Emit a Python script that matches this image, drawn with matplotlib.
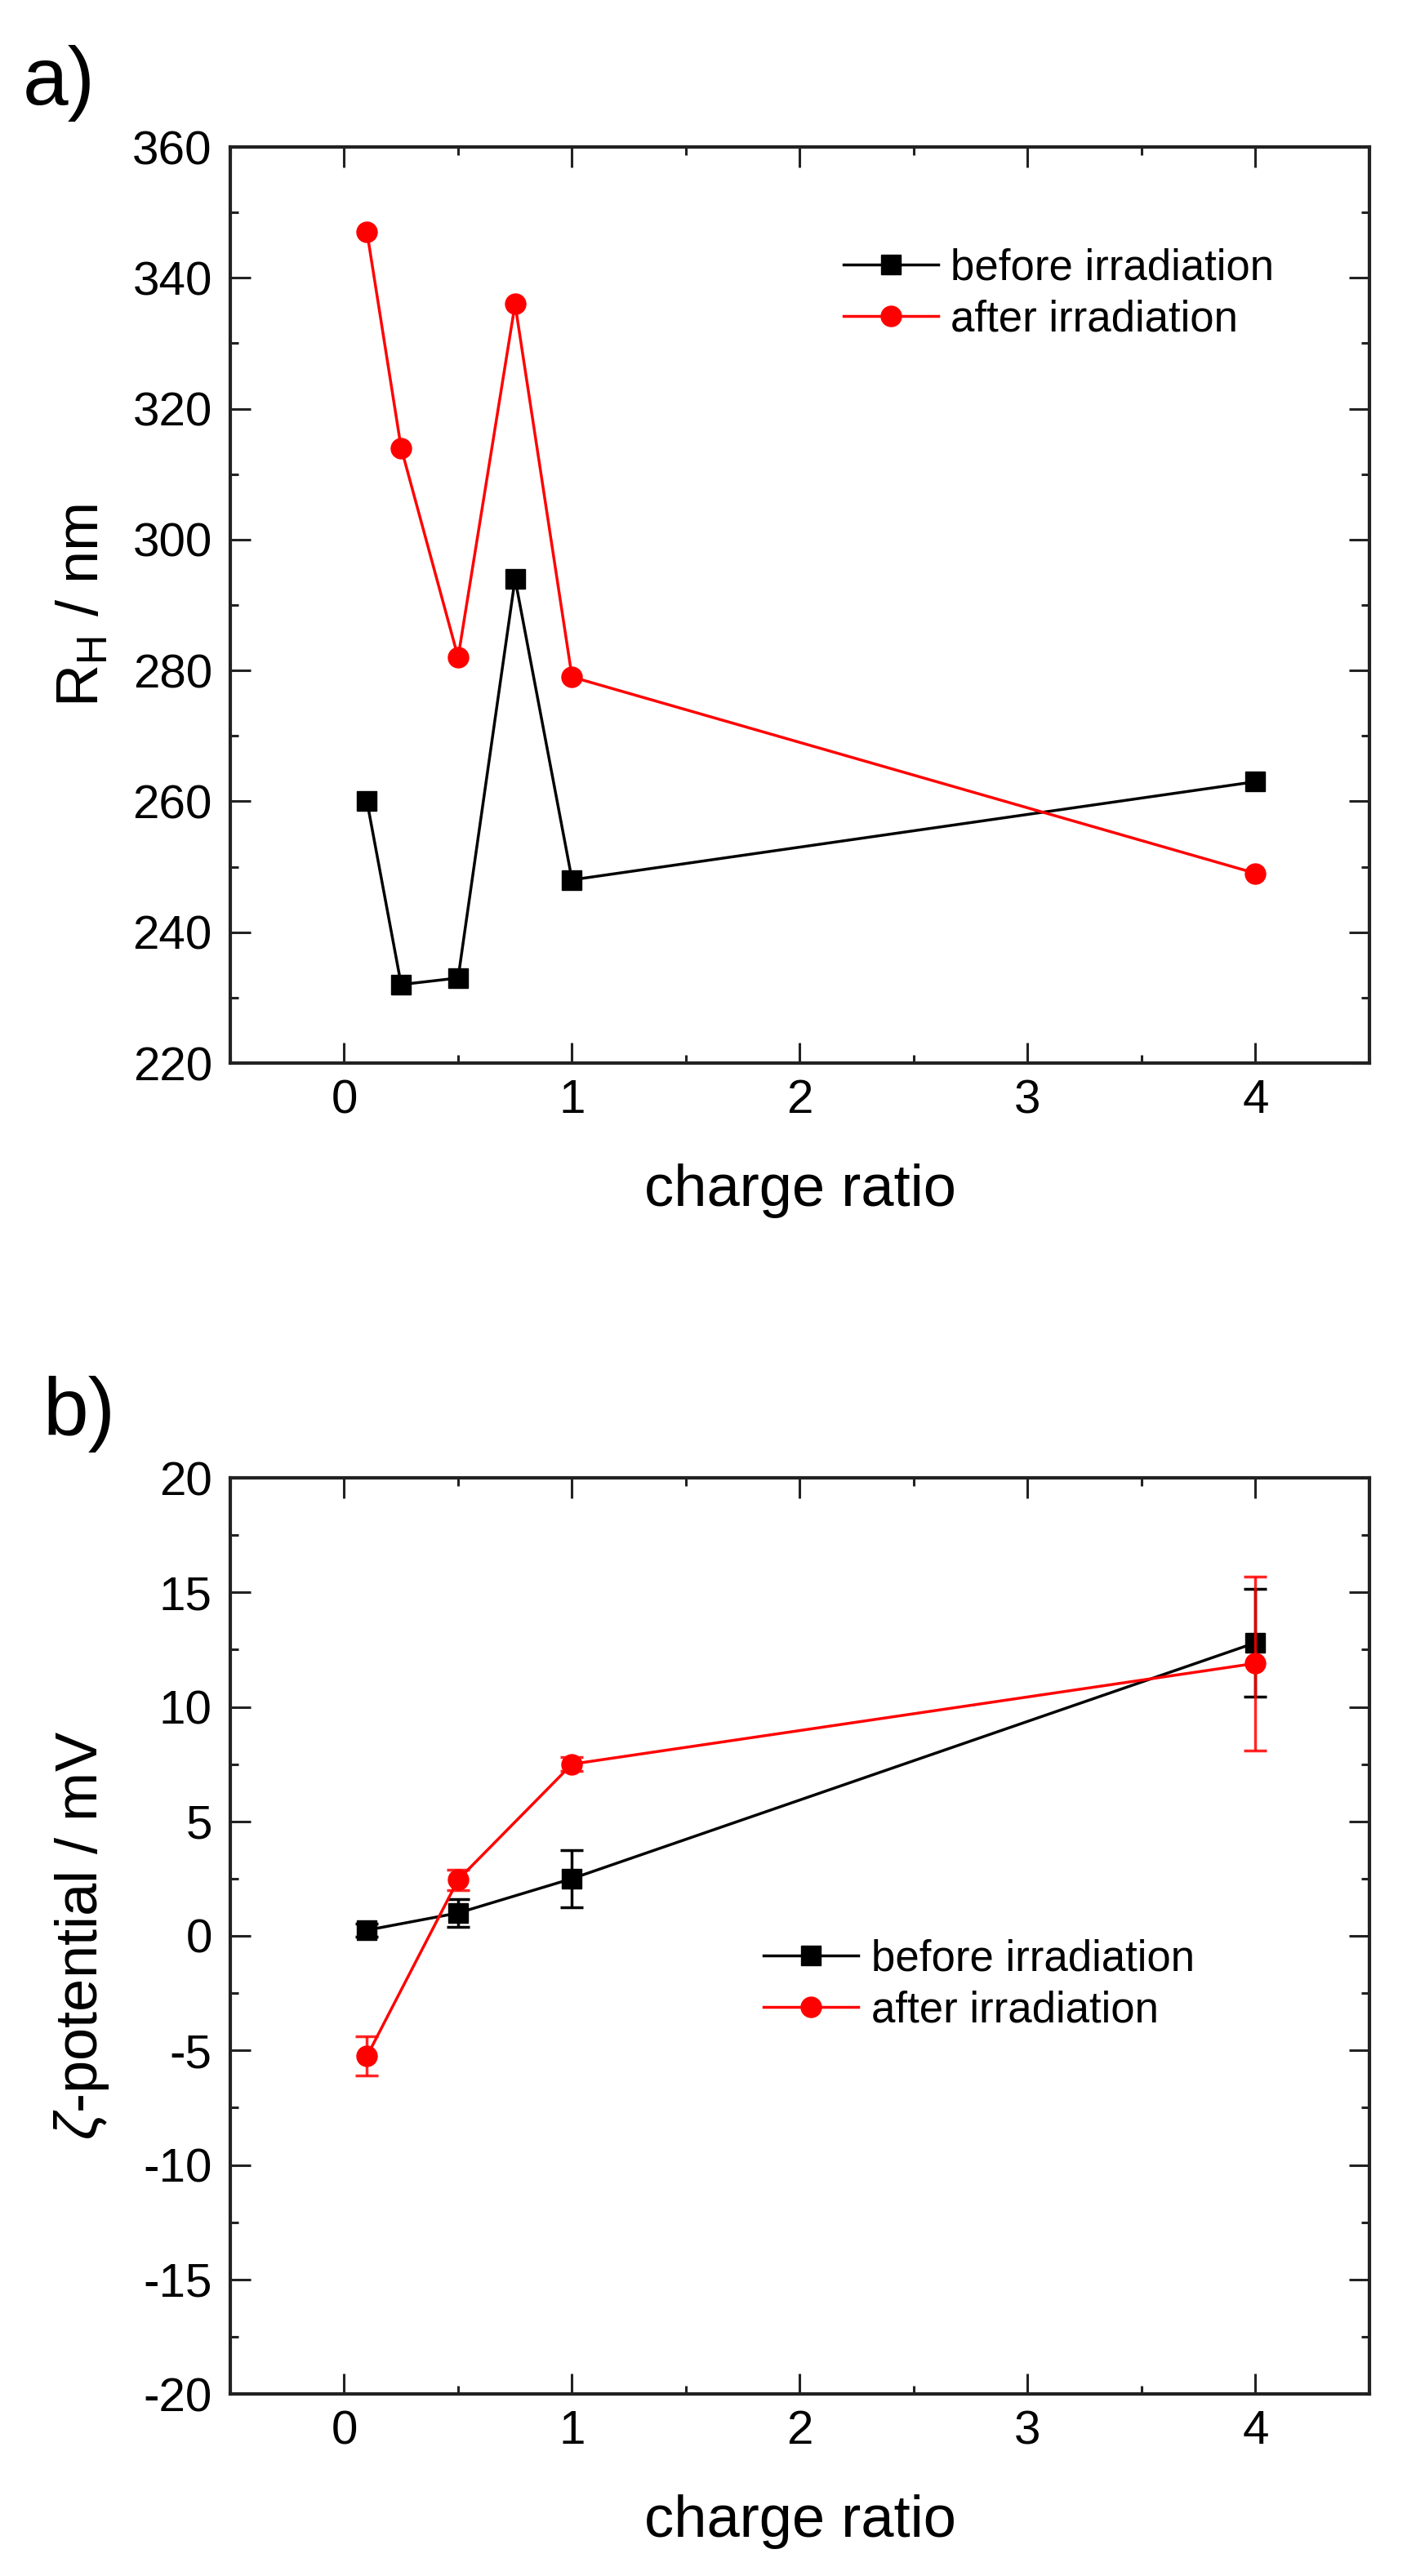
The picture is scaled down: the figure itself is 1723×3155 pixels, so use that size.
import numpy as np
import matplotlib
matplotlib.use('Agg')
import matplotlib.pyplot as plt
from matplotlib.ticker import MultipleLocator

plt.rcParams['font.family'] = ['Liberation Sans', 'DejaVu Sans']
plt.rcParams['mathtext.fontset'] = 'custom'
plt.rcParams['mathtext.rm'] = 'Liberation Sans'
plt.rcParams['mathtext.it'] = 'Liberation Sans:italic'
plt.rcParams['axes.unicode_minus'] = False

# panel a) hydrodynamic radius
ratio_a = [0.1, 0.25, 0.5, 0.75, 1, 4]
rh_before = [260, 232, 233, 294, 248, 263]
rh_after = [347, 314, 282, 336, 279, 249]

# panel b) zeta potential
ratio_b = [0.1, 0.5, 1, 4]
zeta_before = [0.25, 1.0, 2.5, 12.8]
zeta_before_err = [0.3, 0.6, 1.25, 2.35]
zeta_after = [-5.25, 2.45, 7.5, 11.9]
zeta_after_err = [0.85, 0.45, 0.3, 3.8]

W, H = 1724, 3155
fig = plt.figure(figsize=(W / 100, H / 100), dpi=100)
ax1 = fig.add_axes([282 / W, 1 - 1302 / H, 1395 / W, 1122 / H])
ax2 = fig.add_axes([282 / W, 1 - 2932 / H, 1395 / W, 1122 / H])

tick_fs = 42
label_fs = 52
leg_fs = 38


def style(ax, ymaj, ymin):
    ax.set_xlim(-0.5, 4.5)
    ax.xaxis.set_major_locator(MultipleLocator(1))
    ax.xaxis.set_minor_locator(MultipleLocator(0.5))
    ax.yaxis.set_major_locator(MultipleLocator(ymaj))
    ax.yaxis.set_minor_locator(MultipleLocator(ymin))
    ax.tick_params(which='both', direction='in', top=True, right=True,
                   colors='#222222', labelcolor='black')
    ax.tick_params(which='major', length=18, width=2.2, labelsize=tick_fs)
    ax.tick_params(which='minor', length=7, width=2.2)
    ax.tick_params(axis='y', pad=16)
    ax.tick_params(axis='x', pad=14)
    for s in ax.spines.values():
        s.set_linewidth(3)
        s.set_color('#222222')
    ax.set_xlabel('charge ratio', fontsize=label_fs, labelpad=36)


# a)
ax1.plot(ratio_a, rh_before, '-s', color='black', lw=2.5, ms=17,
         label='before irradiation')
ax1.plot(ratio_a, rh_after, '-o', color='red', lw=2.5, ms=18,
         label='after irradiation')
ax1.set_ylim(220, 360)
style(ax1, 20, 10)
ax1.set_ylabel(r'R$_\mathrm{H}$ / nm', fontsize=label_fs)
ax1.yaxis.set_label_coords(-0.105, 0.5)
ax1.legend(loc='upper left', bbox_to_anchor=(0.538, 0.89), frameon=False,
           fontsize=leg_fs, handlelength=2.2, handletextpad=0.3,
           labelspacing=0.25, borderpad=0, borderaxespad=0)

# b)
ax2.errorbar(ratio_b, zeta_before, yerr=zeta_before_err, fmt='none',
             ecolor='black', elinewidth=2.5, capsize=10, capthick=2.5)
ax2.plot(ratio_b, zeta_before, '-s', color='black', lw=2.5, ms=17,
         label='before irradiation')
ax2.errorbar(ratio_b, zeta_after, yerr=zeta_after_err, fmt='none',
             ecolor='red', elinewidth=2.5, capsize=10, capthick=2.5, alpha=0.85)
ax2.plot(ratio_b, zeta_after, '-o', color='red', lw=2.5, ms=18,
         label='after irradiation')
ax2.set_ylim(-20, 20)
style(ax2, 5, 2.5)
ax2.set_ylabel(r'$\zeta$-potential / mV', fontsize=label_fs)
ax2.yaxis.set_label_coords(-0.105, 0.5)
ax2.legend(loc='upper left', bbox_to_anchor=(0.468, 0.497), frameon=False,
           fontsize=leg_fs, handlelength=2.2, handletextpad=0.3,
           labelspacing=0.25, borderpad=0, borderaxespad=0)

fig.text(28 / W, 1 - 128 / H, 'a)', fontsize=72, va='baseline', ha='left')
fig.text(53 / W, 1 - 1758 / H, 'b)', fontsize=72, va='baseline', ha='left')

fig.savefig('out.png', dpi=100, facecolor='white')
